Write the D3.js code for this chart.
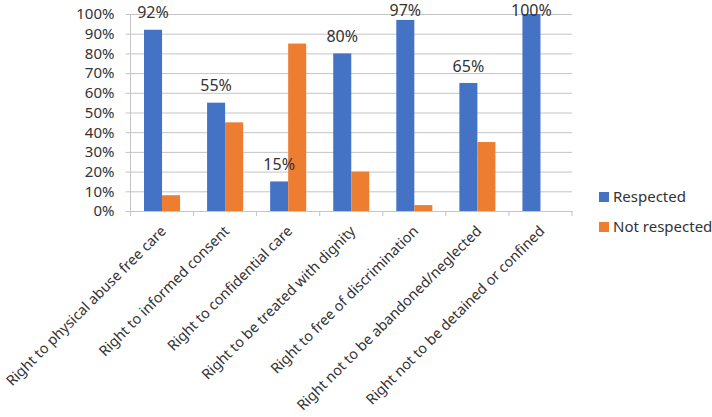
<!DOCTYPE html>
<html>
<head>
<meta charset="utf-8">
<script src="https://cdn.jsdelivr.net/npm/d3@7"></script>
<style>
  body { margin: 0; background: #fff; }
  text { font-family: "Noto Sans", "Open Sans", sans-serif; fill: #333; }
</style>
</head>
<body>
<script>
var categories = [
  "Right to physical abuse free care",
  "Right to informed consent",
  "Right to confidential care",
  "Right to be treated with dignity",
  "Right to free of discrimination",
  "Right not to be abandoned/neglected",
  "Right not to be detained or confined"
];
var respected = [92, 55, 15, 80, 97, 65, 100];
var notRespected = [8, 45, 85, 20, 3, 35, 0];
var seriesNames = ["Respected", "Not respected"];
var seriesColors = ["#4472C4", "#ED7D31"];
var yTicks = [0, 10, 20, 30, 40, 50, 60, 70, 80, 90, 100];

var width = 712, height = 417;
var margin = {left: 130.5, right: 140, top: 14, bottom: 206};

var svg = d3.select("body").append("svg")
  .attr("width", width)
  .attr("height", height);

var x = d3.scaleBand()
  .domain(categories)
  .range([margin.left, width - margin.right]);

var inner = d3.scaleBand()
  .domain(seriesNames)
  .range([0, x.bandwidth()])
  .paddingInner(0)
  .paddingOuter(0.75);

var y = d3.scaleLinear()
  .domain([0, 100])
  .range([height - margin.bottom, margin.top]);

// gridlines + y labels
var yAxis = svg.append("g")
  .attr("transform", "translate(" + margin.left + ",0)")
  .call(d3.axisLeft(y).tickValues(yTicks).tickFormat(function(d) { return d + "%"; })
    .tickSize(-(width - margin.right - margin.left)).tickPadding(16));
yAxis.select(".domain").remove();
yAxis.selectAll("line").attr("stroke", "#c4c4c4").attr("x1", -5);
yAxis.selectAll("text").style("font-size", "15px").attr("fill", "#333");

// vertical axis line
svg.append("line")
  .attr("x1", margin.left).attr("x2", margin.left)
  .attr("y1", y(100)).attr("y2", y(0) + 5)
  .attr("stroke", "#c4c4c4");

// x axis
var xAxis = svg.append("g")
  .attr("transform", "translate(0," + y(0) + ")")
  .call(d3.axisBottom(x).tickSize(0).tickFormat(""));
xAxis.select(".domain").attr("stroke", "#c4c4c4");
xAxis.selectAll(".sep")
  .data(d3.range(categories.length + 1))
  .enter().append("line")
  .attr("x1", function(i) { return margin.left + i * x.bandwidth(); })
  .attr("x2", function(i) { return margin.left + i * x.bandwidth(); })
  .attr("y1", 0).attr("y2", 5)
  .attr("stroke", "#c4c4c4");

var data = categories.map(function(c, i) {
  return {cat: c, vals: [respected[i], notRespected[i]]};
});

var groups = svg.append("g").selectAll("g")
  .data(data).enter().append("g")
  .attr("transform", function(d) { return "translate(" + x(d.cat) + ",0)"; });

groups.selectAll("rect")
  .data(function(d) { return d.vals.map(function(v, j) { return {s: seriesNames[j], v: v, j: j}; }); })
  .enter().append("rect")
  .attr("x", function(d) { return inner(d.s); })
  .attr("width", inner.bandwidth())
  .attr("y", function(d) { return y(d.v); })
  .attr("height", function(d) { return y(0) - y(d.v); })
  .attr("fill", function(d) { return seriesColors[d.j]; });

// data labels on respected bars (kept inside the chart area like Excel does)
groups.append("text")
  .attr("x", function() { return inner("Respected") + inner.bandwidth() / 2; })
  .attr("y", function(d) { return Math.max(y(d.vals[0]) - 17, 10); })
  .attr("dy", "0.35em")
  .attr("text-anchor", "middle")
  .style("font-size", "16px")
  .text(function(d) { return d.vals[0] + "%"; });

// category labels
svg.append("g").selectAll("text")
  .data(categories).enter().append("text")
  .attr("transform", function(d) {
    return "translate(" + (x(d) + x.bandwidth() / 2 + 5) + "," + (y(0) + 21) + ") rotate(-45)";
  })
  .attr("text-anchor", "end")
  .style("font-size", "14.4px")
  .text(function(d) { return d; });

// legend
var legend = svg.append("g").selectAll("g")
  .data(seriesNames).enter().append("g")
  .attr("transform", function(d, i) { return "translate(599," + (192 + i * 30) + ")"; });
legend.append("rect")
  .attr("width", 10).attr("height", 10)
  .attr("fill", function(d, i) { return seriesColors[i]; });
legend.append("text")
  .attr("x", 14).attr("y", 5).attr("dy", "0.35em")
  .style("font-size", "15px")
  .text(function(d) { return d; });
</script>
</body>
</html>
